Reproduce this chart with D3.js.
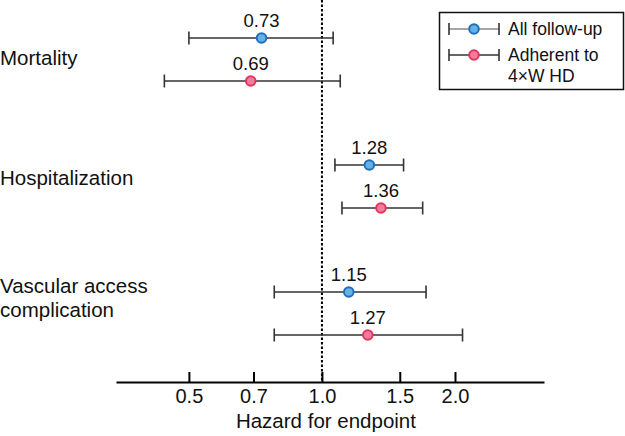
<!DOCTYPE html>
<html>
<head>
<meta charset="utf-8">
<script src="https://cdn.jsdelivr.net/npm/d3@7"></script>
<style>
  body { margin: 0; background: #fff; }
  svg { display: block; font-family: Arial, "Liberation Sans", Helvetica, sans-serif; }
</style>
</head>
<body>
<svg id="chart" width="625" height="436"></svg>
<script>
// ---- data ----
const categories = ["Mortality", "Hospitalization", "Vascular access\ncomplication"];
const seriesNames = ["All follow-up", "Adherent to\n4×W HD"];
const allHR = [0.73, 1.28, 1.15];
const allLo = [0.50, 1.07, 0.78];
const allHi = [1.06, 1.53, 1.72];
const adhHR = [0.69, 1.36, 1.27];
const adhLo = [0.44, 1.11, 0.78];
const adhHi = [1.10, 1.69, 2.08];
const tickValues = [0.5, 0.7, 1.0, 1.5, 2.0];
const tickLabels = ["0.5", "0.7", "1.0", "1.5", "2.0"];
const axisTitle = "Hazard for endpoint";
const refValue = 1.0;

// ---- styles ----
const fills = ["#66b0e3", "#f17c9b"];
const strokes = ["#1c6fbd", "#e2345d"];
const barColor = "#333";

const svg = d3.select("#chart");

const x = d3.scaleLog().domain([0.342, 3.18]).range([116, 544]);
const yGroup = d3.scalePoint().domain(categories).range([59.5, 313.5]);
const ySeries = d3.scalePoint().domain(seriesNames).range([-21.5, 21.5]);
const yLabel = d3.scalePoint().domain(categories).range([58, 298]);
const axisY = 382;

const rows = [];
categories.forEach((c, i) => {
  rows.push({cat: c, s: 0, hr: allHR[i], lo: allLo[i], hi: allHi[i]});
  rows.push({cat: c, s: 1, hr: adhHR[i], lo: adhLo[i], hi: adhHi[i]});
});
const rowY = d => yGroup(d.cat) + ySeries(seriesNames[d.s]);

// reference line
svg.append("line")
  .attr("x1", x(refValue)).attr("x2", x(refValue))
  .attr("y1", 0).attr("y2", axisY)
  .attr("stroke", "#000").attr("stroke-width", 2)
  .attr("stroke-dasharray", "2.5,2");

// axis
const axis = d3.axisBottom(x)
  .tickValues(tickValues)
  .tickFormat((d, i) => tickLabels[i])
  .tickSizeInner(-10).tickSizeOuter(0).tickPadding(7);
const gAx = svg.append("g").attr("transform", `translate(0,${axisY})`).call(axis);
gAx.select(".domain").attr("stroke", "#000").attr("stroke-width", 2);
gAx.selectAll(".tick line").attr("stroke", "#000").attr("stroke-width", 2);
gAx.selectAll(".tick text").attr("font-size", 20).attr("fill", "#111")
  .attr("font-family", "Arial, 'Liberation Sans', sans-serif");

svg.append("text")
  .attr("x", x(refValue) + 4).attr("y", 428)
  .attr("text-anchor", "middle").attr("font-size", 20.5).attr("fill", "#111")
  .text(axisTitle);

// category labels
categories.forEach(c => {
  const lines = c.split("\n");
  const lh = 24;
  const t = svg.append("text").attr("font-size", 20.5).attr("fill", "#111");
  lines.forEach((ln, j) => {
    t.append("tspan")
      .attr("x", 0)
      .attr("y", yLabel(c) + 7 - (lines.length - 1) * lh / 2 + j * lh)
      .text(ln);
  });
});

// error bars
const g = svg.append("g");
const capH = 6.5;
g.selectAll("line.ci").data(rows).join("line")
  .attr("class", "ci")
  .attr("x1", d => x(d.lo)).attr("x2", d => x(d.hi))
  .attr("y1", rowY).attr("y2", rowY)
  .attr("stroke", barColor).attr("stroke-width", 1.6);
g.selectAll("line.capL").data(rows).join("line")
  .attr("class", "capL")
  .attr("x1", d => x(d.lo)).attr("x2", d => x(d.lo))
  .attr("y1", d => rowY(d) - capH).attr("y2", d => rowY(d) + capH)
  .attr("stroke", barColor).attr("stroke-width", 1.6);
g.selectAll("line.capR").data(rows).join("line")
  .attr("class", "capR")
  .attr("x1", d => x(d.hi)).attr("x2", d => x(d.hi))
  .attr("y1", d => rowY(d) - capH).attr("y2", d => rowY(d) + capH)
  .attr("stroke", barColor).attr("stroke-width", 1.6);
g.selectAll("circle").data(rows).join("circle")
  .attr("cx", d => x(d.hr)).attr("cy", rowY).attr("r", 4.8)
  .attr("fill", d => fills[d.s]).attr("stroke", d => strokes[d.s]).attr("stroke-width", 2);
g.selectAll("text.val").data(rows).join("text")
  .attr("class", "val")
  .attr("x", d => x(d.hr)).attr("y", d => rowY(d) - 11)
  .attr("text-anchor", "middle").attr("font-size", 18.5).attr("fill", "#111")
  .text(d => d.hr.toFixed(2));

// legend
const lg = svg.append("g");
lg.append("rect").attr("x", 439.5).attr("y", 12.5).attr("width", 184).attr("height", 77)
  .attr("fill", "#fff").attr("stroke", "#111").attr("stroke-width", 1.5);
const legendY = d3.scalePoint().domain(seriesNames).range([29, 55]);
const legendBarColors = ["#888", "#333"];
seriesNames.forEach((s, i) => {
  const yy = legendY(s);
  lg.append("line").attr("x1", 449).attr("x2", 499).attr("y1", yy).attr("y2", yy)
    .attr("stroke", legendBarColors[i]).attr("stroke-width", 1.6);
  [449, 499].forEach(xx => lg.append("line").attr("x1", xx).attr("x2", xx)
    .attr("y1", yy - 6).attr("y2", yy + 6).attr("stroke", "#333").attr("stroke-width", 1.6));
  lg.append("circle").attr("cx", 474).attr("cy", yy).attr("r", 4.8)
    .attr("fill", fills[i]).attr("stroke", strokes[i]).attr("stroke-width", 2);
  const t = lg.append("text").attr("font-size", 17.5).attr("fill", "#111");
  s.split("\n").forEach((ln, j) => {
    t.append("tspan").attr("x", 508).attr("y", yy + 6 + j * 21).text(ln);
  });
});
</script>
</body>
</html>
